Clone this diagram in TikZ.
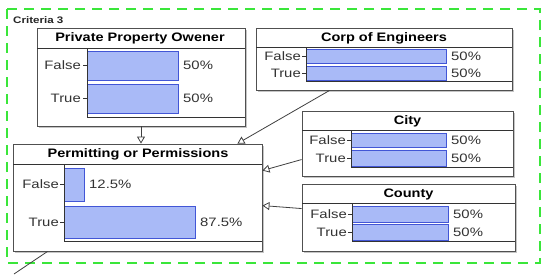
\documentclass[tikz,border=0pt]{standalone}
\usepackage{fontspec}
\setmainfont{Liberation Sans}
\newfontfamily\lblfont{Liberation Sans}[FakeStretch=1.22]
\newfontfamily\ttlfont{Liberation Sans}[FakeStretch=1.18]
\usetikzlibrary{arrows.meta,shadows,calc}
\definecolor{barfill}{HTML}{A9BAF7}
\definecolor{barline}{HTML}{4256D6}
\definecolor{boxline}{HTML}{505050}
\definecolor{grn}{HTML}{3AE63A}
\tikzset{
  panel/.style={draw=boxline, line width=0.9pt, fill=white, rectangle, inner sep=0pt,
    drop shadow={shadow xshift=1.6pt, shadow yshift=-1.6pt, opacity=0.45, fill=gray}},
  ttl/.style={font=\ttlfont\bfseries\fontsize{12.3}{14}\selectfont, inner sep=0pt, text=black},
  lbl/.style={font=\lblfont\fontsize{12.2}{14}\selectfont, inner sep=0pt, anchor=east, text=black!80},
  pct/.style={font=\lblfont\fontsize{12.2}{14}\selectfont, inner sep=0pt, anchor=west, text=black!80},
  bar/.style={draw=barline, fill=barfill, line width=0.8pt},
  axis/.style={draw=black!80, line width=0.8pt},
  conn/.style={draw=black!75, line width=0.8pt},
  arr/.style={conn, -{Triangle[open, length=7pt, width=8pt]}},
}
\begin{document}
\begin{tikzpicture}[x=1pt, y=-1pt]
\useasboundingbox (0,0) rectangle (550,274);
\fill[white] (0,0) rectangle (550,274);
% green dashed frame
\draw[grn, line width=1.3pt, dash pattern=on 10pt off 7pt] (7,9) rectangle (540,263);
\node[font=\lblfont\bfseries\fontsize{9.5}{11}\selectfont, anchor=west, inner sep=0pt, text=black!85] (crit) at (13,20) {Criteria 3};

% ---------- boxes ----------
\node[panel, minimum width=208pt, minimum height=98pt] (ppo) at (141,77) {};
\node[panel, minimum width=256pt, minimum height=62pt] (corp) at (384,59) {};
\node[panel, minimum width=211pt, minimum height=65pt] (city) at (407.5,143.5) {};
\node[panel, minimum width=213pt, minimum height=67pt] (county) at (408.5,217.5) {};
\node[panel, minimum width=249pt, minimum height=107pt] (perm) at (137.5,197.5) {};

% ---------- Private Property Owener ----------
\node[ttl] (ppot) at (140,38) {Private Property Owener};
\draw[axis] (37,48) -- (245,48);
\draw[bar] (87,51) rectangle (178,80);
\draw[bar] (87,84) rectangle (178,113);
\draw[axis] (87,48) -- (87,117) -- (245,117);
\draw[axis] (83,65.5) -- (87,65.5) (83,98.5) -- (87,98.5);
\node[lbl] (ppof) at (81,65.5) {False};
\node[lbl] (ppotr) at (81,98.5) {True};
\node[pct] (ppop1) at (183,65.5) {50\%};
\node[pct] (ppop2) at (183,98.5) {50\%};

% ---------- Corp of Engineers ----------
\node[ttl] (corpt) at (384,38) {Corp of Engineers};
\draw[axis] (256,47) -- (512,47);
\draw[bar] (306,49) rectangle (446,63);
\draw[bar] (306,66) rectangle (446,80);
\draw[axis] (306,47) -- (306,81) -- (512,81);
\draw[axis] (302,56) -- (306,56) (302,73) -- (306,73);
\node[lbl] (corpf) at (301,56) {False};
\node[lbl] (corptr) at (301,73) {True};
\node[pct] (corpp1) at (451,56) {50\%};
\node[pct] (corpp2) at (451,73) {50\%};

% ---------- City ----------
\node[ttl] (cityt) at (407.5,121) {City};
\draw[axis] (302,130) -- (513,130);
\draw[bar] (351,133) rectangle (446,147);
\draw[bar] (351,150) rectangle (446,166);
\draw[axis] (351,130) -- (351,167) -- (513,167);
\draw[axis] (347,140) -- (351,140) (347,158) -- (351,158);
\node[lbl] (cityf) at (346,140) {False};
\node[lbl] (citytr) at (346,158) {True};
\node[pct] (cityp1) at (451,140) {50\%};
\node[pct] (cityp2) at (451,158) {50\%};

% ---------- County ----------
\node[ttl] (countyt) at (408.5,194) {County};
\draw[axis] (302,203) -- (515,203);
\draw[bar] (352,206) rectangle (448,222);
\draw[bar] (352,224) rectangle (448,240);
\draw[axis] (352,203) -- (352,241) -- (515,241);
\draw[axis] (348,214) -- (352,214) (348,232) -- (352,232);
\node[lbl] (countyf) at (347,214) {False};
\node[lbl] (countytr) at (347,232) {True};
\node[pct] (countyp1) at (453,214) {50\%};
\node[pct] (countyp2) at (453,232) {50\%};

% ---------- Permitting or Permissions ----------
\node[ttl] (permt) at (138,154) {Permitting or Permissions};
\draw[axis] (13,164) -- (262,164);
\draw[bar] (64,168) rectangle (84,201);
\draw[bar] (64,206) rectangle (195,238);
\draw[axis] (64,164) -- (64,241) -- (262,241);
\draw[axis] (60,184) -- (64,184) (60,222) -- (64,222);
\node[lbl] (permf) at (59,184) {False};
\node[lbl] (permtr) at (59,222) {True};
\node[pct] (permp1) at (89,184) {12.5\%};
\node[pct] (permp2) at (200,222) {87.5\%};

% ---------- connectors ----------
\coordinate (outend) at (14,274);
\draw[arr] (ppo.south) -- (ppo.south |- perm.north);
\draw[arr] ([xshift=74pt]corp.south west) -- ([xshift=-25pt]perm.north east);
\draw[arr] ([yshift=-49pt]city.north west) -- ([yshift=-27pt]perm.north east);
\draw[arr] ([yshift=-25pt]county.north west) -- ([yshift=-62pt]perm.north east);
\draw[conn] ([xshift=35pt]perm.south west) -- (outend);
\end{tikzpicture}
\end{document}
